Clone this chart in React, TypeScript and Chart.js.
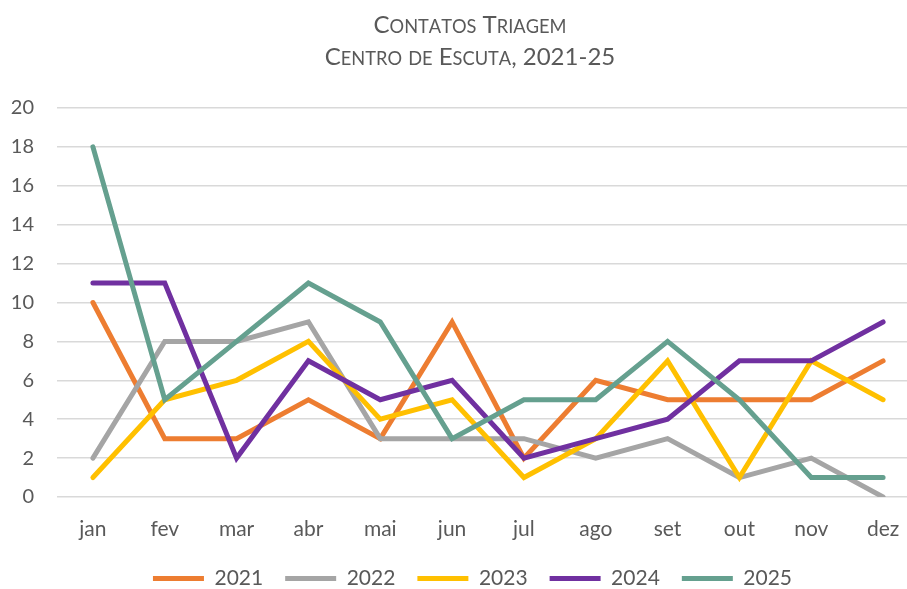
import React, { useEffect, useRef } from 'react';
import { Chart, registerables } from 'chart.js';

Chart.register(...registerables);

const months = ['jan', 'fev', 'mar', 'abr', 'mai', 'jun', 'jul', 'ago', 'set', 'out', 'nov', 'dez'];
const seriesLabels = ['2021', '2022', '2023', '2024', '2025'];
const s2021 = [10, 3, 3, 5, 3, 9, 2, 6, 5, 5, 5, 7];
const s2022 = [2, 8, 8, 9, 3, 3, 3, 2, 3, 1, 2, 0];
const s2023 = [1, 5, 6, 8, 4, 5, 1, 3, 7, 1, 7, 5];
const s2024 = [11, 11, 2, 7, 5, 6, 2, 3, 4, 7, 7, 9];
const s2025 = [18, 5, 8, 11, 9, 3, 5, 5, 8, 5, 1, 1];
const seriesValues = [s2021, s2022, s2023, s2024, s2025];
const seriesColors = ['#ED7D31', '#A5A5A5', '#FFC000', '#7030A0', '#65A08F'];
const titleLines = ['Contatos Triagem', 'Centro de Escuta, 2021-25'];
const yMin = 0;
const yMax = 20;
const yStep = 2;

const TEXT = '#595959';
const FONT = 'Lato';

function drawSmallCaps(ctx: CanvasRenderingContext2D, text: string, cx: number, baseline: number, size: number) {
  const small = size * 0.76;
  const parts = Array.from(text).map((ch) => {
    const lower = ch !== ch.toUpperCase();
    return { t: lower ? ch.toUpperCase() : ch, s: lower ? small : size };
  });
  let total = 0;
  const widths = parts.map((p) => {
    ctx.font = `${p.s}px ${FONT}`;
    const w = ctx.measureText(p.t).width;
    total += w;
    return w;
  });
  let x = cx - total / 2;
  ctx.textBaseline = 'alphabetic';
  ctx.textAlign = 'left';
  parts.forEach((p, i) => {
    ctx.font = `${p.s}px ${FONT}`;
    ctx.fillText(p.t, x, baseline);
    x += widths[i];
  });
}

const smallCapsTitle = {
  id: 'smallCapsTitle',
  afterDraw(chart: any) {
    const ctx = chart.ctx as CanvasRenderingContext2D;
    ctx.save();
    ctx.fillStyle = TEXT;
    const cx = 470;
    drawSmallCaps(ctx, titleLines[0], cx, 33, 24);
    drawSmallCaps(ctx, titleLines[1], cx, 65, 24);
    ctx.restore();
  },
};

const shiftLegend = {
  id: 'shiftLegend',
  afterLayout(chart: any) {
    const lg = chart.legend;
    if (lg) {
      lg.left += 13;
      lg.right += 13;
    }
  },
};

export default function App() {
  const ref = useRef<HTMLCanvasElement | null>(null);

  useEffect(() => {
    if (!ref.current) return;
    const chart = new Chart(ref.current, {
      type: 'line',
      data: {
        labels: months,
        datasets: seriesLabels.map((label, i) => ({
          label,
          data: seriesValues[i],
          borderColor: seriesColors[i],
          backgroundColor: seriesColors[i],
          borderWidth: 5,
          borderCapStyle: 'round' as const,
          borderJoinStyle: 'miter' as const,
          pointRadius: 0,
          pointHoverRadius: 0,
          pointStyle: 'line' as const,
          tension: 0,
          fill: false,
          order: seriesLabels.length - i,
        })),
      },
      plugins: [smallCapsTitle, shiftLegend],
      options: {
        responsive: false,
        animation: false,
        layout: { padding: { left: 0, right: 21, top: 108, bottom: 0 } },
        plugins: {
          title: { display: false },
          legend: {
            position: 'bottom',
            labels: {
              usePointStyle: true,
              pointStyle: 'line',
              pointStyleWidth: 51,
              color: TEXT,
              font: { family: FONT, size: 21 },
              padding: 22,
              sort: (a: any, b: any) => a.datasetIndex - b.datasetIndex,
            },
          },
          tooltip: { enabled: false },
        },
        scales: {
          x: {
            offset: true,
            grid: { display: false },
            border: { display: false },
            ticks: { color: TEXT, font: { family: FONT, size: 21 }, padding: 12, maxRotation: 0 },
            afterFit: (scale: any) => { scale.height = 49; },
          },
          y: {
            min: yMin,
            max: yMax,
            grid: { color: '#D9D9D9', lineWidth: 1.5, drawTicks: false },
            border: { display: false },
            ticks: { stepSize: yStep, color: TEXT, font: { family: FONT, size: 20 }, padding: 23 },
            afterFit: (scale: any) => { scale.width = 57; },
          },
        },
      },
    });
    return () => chart.destroy();
  }, []);

  return (
    <div style={{ position: 'fixed', left: 0, top: 0, width: 907, height: 589, overflow: 'hidden', background: '#fff' }}>
      <canvas ref={ref} width={940} height={599} style={{ display: 'block' }} />
    </div>
  );
}
